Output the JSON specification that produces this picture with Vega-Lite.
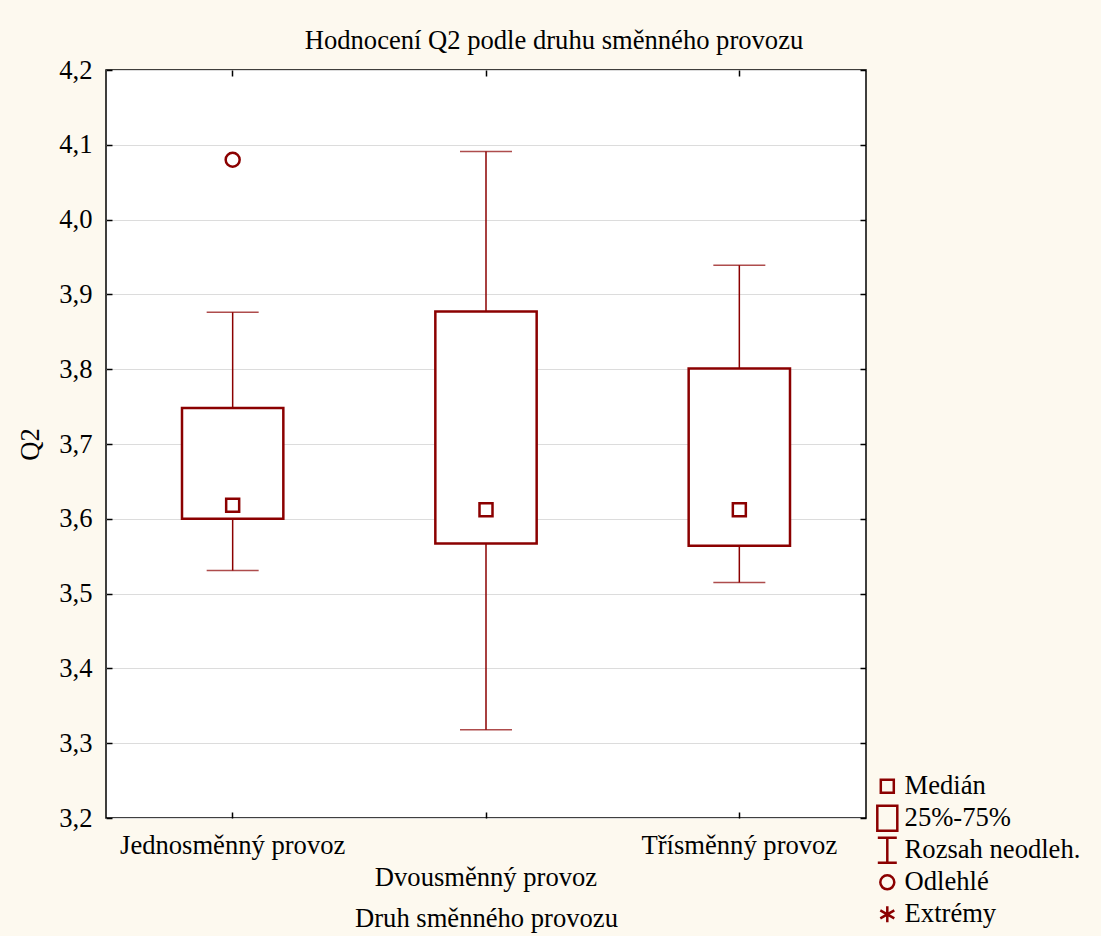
{
  "$schema": "https://vega.github.io/schema/vega-lite/v6.json",
  "width": 760,
  "height": 748,
  "autosize": {"type": "none"},
  "padding": {"left": 106, "top": 70, "right": 235, "bottom": 118},
  "background": "#fdf9ef",
  "config": {
    "font": "Liberation Serif",
    "view": {"fill": "white", "stroke": "black", "strokeWidth": 1.5}
  },
  "title": {
    "text": "Hodnocení Q2 podle druhu směnného provozu",
    "font": "Liberation Serif",
    "fontSize": 26.6,
    "fontWeight": "normal",
    "color": "black",
    "anchor": "middle",
    "frame": "group",
    "dx": 68,
    "offset": 2
  },
  "datasets": {
    "boxes": [
      {"provoz": "Jednosměnný provoz", "min": 3.531, "q1": 3.6, "q3": 3.748, "max": 3.876},
      {"provoz": "Dvousměnný provoz", "min": 3.318, "q1": 3.567, "q3": 3.877, "max": 4.091},
      {"provoz": "Třísměnný provoz", "min": 3.515, "q1": 3.564, "q3": 3.801, "max": 3.939}
    ],
    "points": [
      {"provoz": "Jednosměnný provoz", "value": 3.618, "prvek": "Medián"},
      {"provoz": "Dvousměnný provoz", "value": 3.612, "prvek": "Medián"},
      {"provoz": "Třísměnný provoz", "value": 3.612, "prvek": "Medián"},
      {"provoz": "Jednosměnný provoz", "value": 4.08, "prvek": "Odlehlé"}
    ]
  },
  "layer": [
    {
      "data": {"name": "boxes"},
      "encoding": {
        "x": {
          "field": "provoz",
          "type": "nominal",
          "sort": ["Jednosměnný provoz", "Dvousměnný provoz", "Třísměnný provoz"],
          "scale": {"domain": ["Jednosměnný provoz", "Dvousměnný provoz", "Třísměnný provoz"], "paddingInner": 0, "paddingOuter": 0},
          "axis": {
            "orient": "bottom",
            "title": "Druh směnného provozu",
            "titleFont": "Liberation Serif",
            "titleFontSize": 26.6,
            "titleFontWeight": "normal",
            "titleColor": "black",
            "titlePadding": 15,
            "labelFont": "Liberation Serif",
            "labelFontSize": 26.6,
            "labelColor": "black",
            "labelAngle": 0,
            "labelLimit": 0,
            "labelPadding": 20,
            "labelBaseline": "top",
            "labelLineHeight": 32,
            "labelExpr": "datum.label == 'Dvousměnný provoz' ? ['', datum.label] : datum.label",
            "domain": false,
            "grid": false,
            "ticks": true,
            "tickSize": -6,
            "tickColor": "black",
            "tickWidth": 1.5
          }
        }
      },
      "layer": [
        {
          "mark": {"type": "rule", "color": "#8b0000", "strokeWidth": 1.5},
          "encoding": {
            "y": {
              "field": "min",
              "type": "quantitative",
              "scale": {"domain": [3.2, 4.2], "nice": false, "zero": false},
              "axis": {
                "orient": "left",
                "title": "Q2",
                "titleFont": "Liberation Serif",
                "titleFontSize": 26.6,
                "titleFontWeight": "normal",
                "titleColor": "black",
                "titlePadding": 14,
                "values": [3.2, 3.3, 3.4, 3.5, 3.6, 3.7, 3.8, 3.9, 4.0, 4.1, 4.2],
                "labelExpr": "replace(format(datum.value, '.1f'), '.', ',')",
                "labelFont": "Liberation Serif",
                "labelFontSize": 26.6,
                "labelColor": "black",
                "labelPadding": 20,
                "domain": false,
                "grid": true,
                "gridColor": "#dcdcdc",
                "gridWidth": 1,
                "ticks": true,
                "tickSize": -6,
                "tickColor": "black",
                "tickWidth": 1.5
              }
            },
            "y2": {"field": "max"}
          }
        },
        {
          "mark": {"type": "tick", "color": "#8b0000", "size": 52, "thickness": 1.5, "orient": "horizontal"},
          "encoding": {"y": {"field": "min", "type": "quantitative"}}
        },
        {
          "mark": {"type": "tick", "color": "#8b0000", "size": 52, "thickness": 1.5, "orient": "horizontal"},
          "encoding": {"y": {"field": "max", "type": "quantitative"}}
        },
        {
          "mark": {"type": "bar", "fill": "white", "stroke": "#8b0000", "strokeWidth": 2.5, "width": {"band": 0.4}},
          "encoding": {
            "y": {"field": "q1", "type": "quantitative"},
            "y2": {"field": "q3"}
          }
        }
      ]
    },
    {
      "data": {"name": "points"},
      "mark": {"type": "point", "filled": false, "color": "#8b0000", "strokeWidth": 2.5, "opacity": 1, "size": 4},
      "encoding": {
        "x": {
          "field": "provoz",
          "type": "nominal",
          "sort": ["Jednosměnný provoz", "Dvousměnný provoz", "Třísměnný provoz"],
          "scale": {"domain": ["Jednosměnný provoz", "Dvousměnný provoz", "Třísměnný provoz"], "paddingInner": 0, "paddingOuter": 0},
          "axis": {
            "orient": "top",
            "title": null,
            "labels": false,
            "domain": false,
            "grid": false,
            "ticks": true,
            "tickSize": -6,
            "tickColor": "black",
            "tickWidth": 1.5
          }
        },
        "y": {
          "field": "value",
          "type": "quantitative",
          "scale": {"domain": [3.2, 4.2], "nice": false, "zero": false},
          "axis": {
            "orient": "right",
            "title": null,
            "labels": false,
            "values": [3.2, 3.3, 3.4, 3.5, 3.6, 3.7, 3.8, 3.9, 4.0, 4.1, 4.2],
            "domain": false,
            "grid": false,
            "ticks": true,
            "tickSize": -6,
            "tickColor": "black",
            "tickWidth": 1.5
          }
        },
        "shape": {
          "field": "prvek",
          "type": "nominal",
          "scale": {
            "domain": ["Medián", "25%-75%", "Rozsah neodleh.", "Odlehlé", "Extrémy"],
            "range": [
              "M-6.5,-6.5H6.5V6.5H-6.5Z",
              "M-10,-12.5H10V12.5H-10Z",
              "M-9.5,-12.5H9.5M0,-12.5V12.5M-9.5,12.5H9.5",
              "M7,0A7,7,0,1,1,-7,0A7,7,0,1,1,7,0Z",
              "M0,-8V8M-7,-4L7,4M-7,4L7,-4"
            ]
          },
          "legend": {
            "orient": "none",
            "legendX": 768,
            "legendY": 703,
            "title": null,
            "symbolSize": 4,
            "symbolStrokeColor": "#8b0000",
            "symbolStrokeWidth": 2.5,
            "symbolFillColor": "transparent",
            "labelFont": "Liberation Serif",
            "labelFontSize": 26.6,
            "labelColor": "black",
            "labelOffset": 4,
            "gridAlign": "all",
            "rowPadding": -4,
            "labelLimit": 0
          }
        }
      }
    }
  ],
  "resolve": {"axis": {"x": "independent", "y": "independent"}}
}
